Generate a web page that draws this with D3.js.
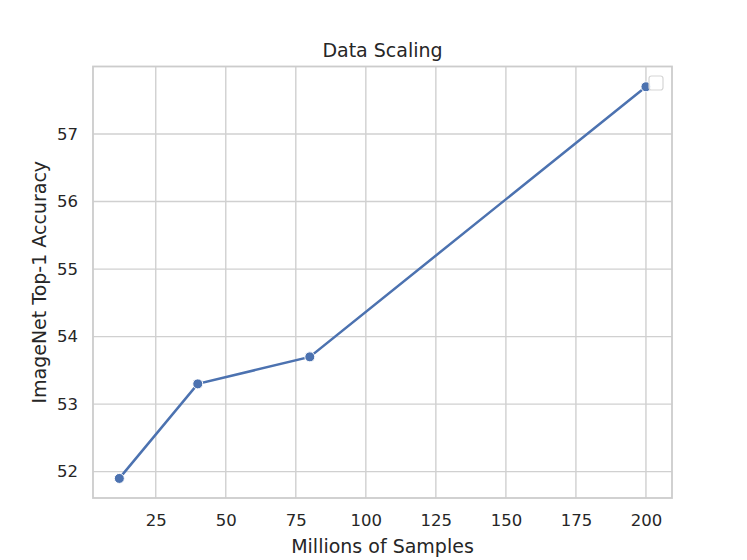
<!DOCTYPE html>
<html>
<head>
<meta charset="utf-8">
<script src="https://cdn.jsdelivr.net/npm/d3@7"></script>
<style>
  body { margin: 0; background: #fff; }
  text { font-family: "DejaVu Sans", sans-serif; fill: #262626; }
</style>
</head>
<body>
<div id="chart"></div>
<script>
// data
const samples = [12, 40, 80, 200]
const accuracy = [51.9, 53.3, 53.7, 57.7]
const xTicks = [25, 50, 75, 100, 125, 150, 175, 200]
const yTicks = [52, 53, 54, 55, 56, 57]

const width = 747, height = 560
const margin = { left: 93, top: 66.5, right: 75, bottom: 62 }
const innerW = width - margin.left - margin.right
const innerH = height - margin.top - margin.bottom

const x = d3.scaleLinear().domain([2.6, 209.3]).range([0, innerW])
const y = d3.scaleLinear().domain([51.61, 58.0]).range([innerH, 0])

const svg = d3.select("#chart").append("svg")
    .attr("width", width)
    .attr("height", height)

const g = svg.append("g")
    .attr("transform", "translate(" + margin.left + "," + margin.top + ")")

// grid
g.append("g").selectAll("line.vg")
    .data(xTicks).enter().append("line")
    .attr("x1", d => x(d)).attr("x2", d => x(d))
    .attr("y1", 0).attr("y2", innerH)
    .attr("stroke", "#d0d0d0").attr("stroke-width", 1.4)

g.append("g").selectAll("line.hg")
    .data(yTicks).enter().append("line")
    .attr("x1", 0).attr("x2", innerW)
    .attr("y1", d => y(d)).attr("y2", d => y(d))
    .attr("stroke", "#d0d0d0").attr("stroke-width", 1.4)

// frame
g.append("rect")
    .attr("width", innerW).attr("height", innerH)
    .attr("fill", "none").attr("stroke", "#cccccc").attr("stroke-width", 1.8)

// axes (ticks hidden, labels only)
const xAxis = g.append("g")
    .attr("transform", "translate(0," + innerH + ")")
    .call(d3.axisBottom(x).tickValues(xTicks).tickFormat(d3.format("d")).tickSize(0).tickPadding(16))
xAxis.select(".domain").remove()
xAxis.selectAll("text").style("font-size", "16.5px").attr("fill", "#262626")

const yAxis = g.append("g")
    .call(d3.axisLeft(y).tickValues(yTicks).tickFormat(d3.format("d")).tickSize(0).tickPadding(15))
yAxis.select(".domain").remove()
yAxis.selectAll("text").style("font-size", "16.5px").attr("fill", "#262626")

// line + markers
const pts = samples.map((s, i) => [s, accuracy[i]])
g.append("path")
    .datum(pts)
    .attr("fill", "none")
    .attr("stroke", "#4c72b0")
    .attr("stroke-width", 2.5)
    .attr("d", d3.line().x(d => x(d[0])).y(d => y(d[1])))

g.selectAll("circle.pt")
    .data(pts).enter().append("circle")
    .attr("cx", d => x(d[0])).attr("cy", d => y(d[1]))
    .attr("r", 5)
    .attr("fill", "#4c72b0")
    .attr("stroke", "#fff").attr("stroke-width", 1)

// empty legend box
g.append("rect")
    .attr("x", innerW - 23).attr("y", 9.5)
    .attr("width", 14).attr("height", 14).attr("rx", 2.5)
    .attr("fill", "#fff").attr("fill-opacity", 0.8)
    .attr("stroke", "#d6d6d6").attr("stroke-width", 1.2)

// titles
svg.append("text")
    .attr("x", margin.left + innerW / 2).attr("y", 57)
    .attr("text-anchor", "middle")
    .style("font-size", "19px")
    .text("Data Scaling")

svg.append("text")
    .attr("x", margin.left + innerW / 2).attr("y", 553)
    .attr("text-anchor", "middle")
    .style("font-size", "19px")
    .text("Millions of Samples")

svg.append("text")
    .attr("transform", "translate(46," + (margin.top + innerH / 2) + ") rotate(-90)")
    .attr("text-anchor", "middle")
    .style("font-size", "19px")
    .text("ImageNet Top-1 Accuracy")
</script>
</body>
</html>
